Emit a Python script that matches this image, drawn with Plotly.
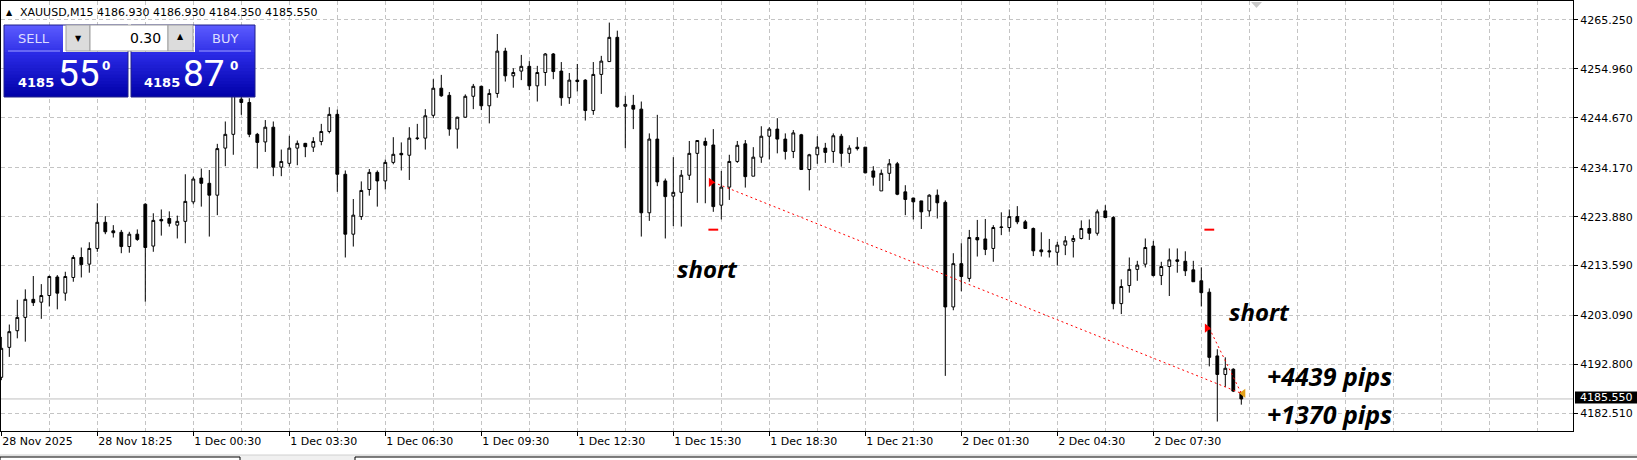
import plotly.graph_objects as go

# ---------------- data ----------------
opens = [4190.1, 4196.4, 4199.9, 4202.7, 4206.5, 4205.9, 4207.3, 4211.2, 4207.8, 4211.1,
         4215.3, 4213.9, 4217.2, 4222.7, 4220.9, 4220.6, 4217.6, 4220.2, 4226.5, 4217.7,
         4223.3, 4223.5, 4222.1, 4222.9, 4227.0, 4232.0, 4230.9, 4228.4, 4238.3, 4241.2,
         4248.6, 4247.9, 4241.2, 4239.6, 4242.7, 4234.3, 4235.1, 4238.3, 4239.3, 4238.5,
         4239.7, 4241.8, 4245.4, 4232.8, 4220.2, 4223.9, 4229.6, 4233.2, 4231.4, 4235.3,
         4237.2, 4236.8, 4240.3, 4240.4, 4245.2, 4250.9, 4249.4, 4242.3, 4244.8, 4249.2,
         4251.3, 4247.2, 4249.8, 4258.7, 4253.5, 4254.5, 4255.5, 4251.4, 4254.2, 4258.1,
         4254.5, 4248.9, 4252.6, 4252.6, 4246.2, 4253.8, 4256.5, 4261.6, 4247.1, 4247.3,
         4246.5, 4224.7, 4240.2, 4231.4, 4228.2, 4229.0, 4232.6, 4237.2, 4239.7, 4238.96,
         4226.3, 4230.1, 4235.5, 4239.2, 4232.4, 4236.4, 4240.8, 4242.3, 4240.2, 4237.6,
         4241.1, 4233.8, 4236.9, 4238.3, 4237.6, 4240.8, 4237.2, 4238.5, 4238.5, 4233.5,
         4229.3, 4233.0, 4235.0, 4229.1, 4227.8, 4227.2, 4225.1, 4228.4, 4226.9, 4204.9,
         4214.0, 4210.9, 4219.5, 4219.2, 4217.2, 4221.6, 4221.6, 4223.9, 4222.8, 4221.4,
         4216.9, 4216.7, 4216.4, 4217.9, 4218.7, 4219.3, 4221.4, 4220.4, 4225.1, 4223.7,
         4205.6, 4209.4, 4212.8, 4213.9, 4217.7, 4211.5, 4213.4, 4214.8, 4214.5, 4212.7,
         4210.4, 4208.0, 4194.6, 4190.7, 4191.8, 4186.93]
highs = [4198.6, 4201.2, 4206.4, 4208.6, 4211.4, 4209.7, 4211.5, 4211.6, 4212.3, 4215.8,
         4217.4, 4218.5, 4226.7, 4224.0, 4222.1, 4221.1, 4220.7, 4221.2, 4226.7, 4224.6,
         4225.4, 4225.0, 4224.1, 4232.8, 4232.3, 4234.0, 4233.7, 4239.2, 4243.9, 4253.0,
         4250.0, 4248.8, 4241.5, 4244.2, 4243.9, 4238.0, 4240.9, 4239.9, 4239.4, 4240.6,
         4243.4, 4246.9, 4246.4, 4233.6, 4227.6, 4231.3, 4233.9, 4233.6, 4235.9, 4240.6,
         4239.5, 4242.7, 4243.4, 4246.5, 4252.8, 4253.7, 4250.1, 4244.9, 4249.6, 4251.8,
         4251.4, 4250.7, 4262.3, 4259.4, 4255.1, 4257.9, 4256.6, 4255.6, 4258.3, 4258.3,
         4256.4, 4254.1, 4256.0, 4252.8, 4256.4, 4257.7, 4264.7, 4263.0, 4249.3, 4249.5,
         4248.1, 4241.4, 4245.3, 4231.9, 4236.4, 4233.7, 4239.8, 4239.9, 4240.5, 4242.3,
         4233.5, 4236.9, 4239.8, 4240.0, 4238.5, 4242.9, 4242.7, 4244.6, 4241.4, 4242.1,
         4241.3, 4237.1, 4240.8, 4239.4, 4241.4, 4241.3, 4238.9, 4240.6, 4238.5, 4234.5,
         4233.8, 4236.0, 4235.4, 4230.5, 4227.8, 4227.2, 4228.6, 4229.6, 4227.3, 4216.2,
         4218.3, 4221.1, 4223.2, 4223.4, 4222.1, 4224.8, 4225.4, 4226.1, 4223.2, 4221.6,
         4220.6, 4219.2, 4218.6, 4219.8, 4220.0, 4223.1, 4223.3, 4225.4, 4226.3, 4224.0,
         4210.7, 4215.3, 4214.6, 4219.3, 4218.8, 4214.4, 4217.2, 4217.2, 4216.6, 4214.6,
         4213.2, 4208.8, 4196.0, 4194.3, 4192.0, 4186.93]
lows = [4189.5, 4194.4, 4198.3, 4197.6, 4205.1, 4202.4, 4205.0, 4204.4, 4206.2, 4210.2,
        4211.1, 4212.1, 4216.5, 4220.2, 4219.5, 4216.2, 4216.3, 4218.8, 4206.0, 4216.5,
        4219.9, 4221.8, 4219.3, 4218.3, 4226.5, 4226.0, 4219.7, 4224.2, 4234.5, 4236.9,
        4245.3, 4240.6, 4234.0, 4237.5, 4232.4, 4232.4, 4234.4, 4234.7, 4236.4, 4237.5,
        4238.9, 4241.4, 4229.1, 4215.3, 4217.6, 4223.2, 4228.3, 4226.0, 4229.6, 4234.9,
        4233.6, 4231.6, 4240.0, 4238.0, 4244.6, 4249.1, 4240.9, 4238.2, 4244.7, 4246.5,
        4246.3, 4243.5, 4248.9, 4252.3, 4251.0, 4252.6, 4250.5, 4248.1, 4251.4, 4252.8,
        4247.2, 4247.6, 4250.2, 4244.1, 4245.3, 4249.7, 4256.5, 4246.8, 4238.3, 4242.3,
        4219.7, 4223.0, 4230.3, 4219.3, 4221.9, 4221.8, 4231.6, 4226.8, 4226.7, 4224.9,
        4223.3, 4227.4, 4235.2, 4230.0, 4232.4, 4235.2, 4235.9, 4237.2, 4235.9, 4236.2,
        4233.8, 4229.4, 4235.0, 4235.2, 4235.2, 4234.4, 4235.2, 4237.8, 4233.0, 4230.4,
        4229.3, 4231.4, 4228.4, 4224.2, 4223.3, 4221.3, 4223.9, 4223.5, 4190.4, 4204.2,
        4208.2, 4210.2, 4215.5, 4215.8, 4214.4, 4220.0, 4220.7, 4222.3, 4221.3, 4215.6,
        4215.5, 4215.3, 4213.6, 4215.8, 4215.3, 4219.1, 4219.0, 4219.9, 4223.7, 4204.4,
        4203.4, 4207.9, 4210.4, 4213.2, 4211.3, 4209.5, 4207.2, 4212.1, 4211.4, 4210.2,
        4205.0, 4192.4, 4180.8, 4188.1, 4187.0, 4184.35]
closes = [4196.2, 4199.7, 4202.7, 4206.5, 4205.8, 4207.3, 4211.3, 4207.8, 4211.3, 4215.3,
          4213.8, 4217.2, 4222.7, 4220.7, 4220.5, 4217.6, 4220.2, 4219.1, 4217.4, 4223.1,
          4223.0, 4222.5, 4222.9, 4227.1, 4231.8, 4230.9, 4228.4, 4238.2, 4241.2, 4250.5,
          4247.9, 4241.2, 4239.5, 4242.7, 4234.3, 4235.5, 4238.3, 4239.3, 4238.6, 4239.7,
          4241.8, 4245.4, 4232.8, 4220.2, 4224.2, 4229.4, 4233.2, 4231.4, 4235.3, 4237.0,
          4236.9, 4240.4, 4240.4, 4245.1, 4250.9, 4249.3, 4242.3, 4244.8, 4249.2, 4251.3,
          4247.2, 4249.8, 4258.7, 4253.5, 4254.2, 4255.5, 4251.4, 4254.2, 4258.1, 4254.4,
          4248.9, 4252.6, 4252.3, 4246.2, 4253.8, 4256.6, 4261.6, 4247.0, 4247.5, 4246.5,
          4224.7, 4240.2, 4231.2, 4228.1, 4229.0, 4232.6, 4237.2, 4239.9, 4238.9, 4226.0,
          4230.1, 4235.5, 4238.9, 4232.3, 4236.4, 4240.8, 4242.3, 4240.2, 4237.6, 4241.5,
          4233.8, 4236.9, 4238.5, 4237.4, 4240.9, 4237.2, 4238.3, 4238.2, 4233.1, 4232.2,
          4233.0, 4235.0, 4228.6, 4227.5, 4227.0, 4224.9, 4228.4, 4226.8, 4204.9, 4214.0,
          4211.3, 4219.5, 4219.0, 4217.0, 4221.6, 4221.7, 4223.9, 4222.8, 4221.4, 4216.7,
          4216.5, 4216.5, 4217.9, 4218.8, 4219.3, 4221.4, 4220.4, 4224.9, 4223.7, 4205.6,
          4209.2, 4212.8, 4213.7, 4217.4, 4211.5, 4213.4, 4214.8, 4214.5, 4212.5, 4210.2,
          4207.9, 4194.3, 4190.7, 4192.0, 4187.2, 4185.55]
bar_index = list(range(len(opens)))

time_tick_idx = [0, 12, 24, 36, 48, 60, 72, 84, 96, 108, 120, 132, 144]
time_tick_text = ["28 Nov 2025", "28 Nov 18:25", "1 Dec 00:30", "1 Dec 03:30", "1 Dec 06:30",
                  "1 Dec 09:30", "1 Dec 12:30", "1 Dec 15:30", "1 Dec 18:30", "1 Dec 21:30",
                  "2 Dec 01:30", "2 Dec 04:30", "2 Dec 07:30"]
price_ticks = [4182.51, 4192.80, 4203.09, 4213.59, 4223.88, 4234.17, 4244.67, 4254.96, 4265.25]
price_tick_text = ["%.3f" % p for p in price_ticks]

trade_open_idx = [89, 151]
trade_open_price = [4231.12, 4200.43]
trade_close_idx = [155, 155]
trade_close_price = [4186.73, 4186.73]
trade_labels = ["+4439 pips", "+1370 pips"]
trade_level_price = [4221.15, 4221.15]
last_price = 4185.55
header = "XAUUSD,M15 4186.930 4186.930 4184.350 4185.550"
lot = "0.30"
bid_big, bid_pts, ask_big, ask_pts = "4185", "55", "4185", "87"

# ---------------- geometry helpers (decoration only) ----------------
W, H = 1637, 460
L, R, T, B = 1, 1573, 1, 431


def px(x):
    return (x - L) / (R - L)


def py(y):
    return (B - y) / (B - T)


FONT = "DejaVu Sans"

fig = go.Figure()

fig.add_trace(go.Candlestick(
    x=bar_index, open=opens, high=highs, low=lows, close=closes,
    increasing=dict(fillcolor="white", line=dict(color="black", width=1)),
    decreasing=dict(fillcolor="black", line=dict(color="black", width=1)),
    whiskerwidth=0, hoverinfo="skip", showlegend=False))

# trade lines
for i in range(len(trade_open_idx)):
    fig.add_trace(go.Scatter(
        x=[trade_open_idx[i], trade_close_idx[i]],
        y=[trade_open_price[i], trade_close_price[i]],
        mode="lines", line=dict(color="red", width=1, dash="2px,3px"),
        hoverinfo="skip", showlegend=False))
fig.add_trace(go.Scatter(
    x=[v - 0.3 for v in trade_open_idx], y=trade_open_price, mode="markers",
    marker=dict(symbol="triangle-right", size=8, color="red"),
    hoverinfo="skip", showlegend=False))
fig.add_trace(go.Scatter(
    x=trade_open_idx, y=trade_level_price, mode="markers",
    marker=dict(symbol="line-ew", size=7, line=dict(color="red", width=2)),
    hoverinfo="skip", showlegend=False))
fig.add_trace(go.Scatter(
    x=[trade_close_idx[0] + 0.25], y=[trade_close_price[0]], mode="markers",
    marker=dict(symbol="triangle-left", size=8, color="#e3a21a"),
    hoverinfo="skip", showlegend=False))

shapes = []
annotations = []

# current price line
shapes.append(dict(type="line", xref="paper", yref="y", x0=0, x1=1, y0=last_price, y1=last_price,
                   line=dict(color="#c0c0c0", width=1), layer="below"))
# price label box
shapes.append(dict(type="rect", xref="paper", yref="paper", x0=px(1575), x1=px(1637),
                   y0=py(403.5), y1=py(391.5), fillcolor="black", line=dict(width=0), layer="above"))
annotations.append(dict(x=px(1578), y=py(397.5), xref="paper", yref="paper", text="%.3f" % last_price,
                        showarrow=False, xanchor="left", yanchor="middle",
                        font=dict(family=FONT, size=11, color="white")))


def mix(c1, c2, t):
    return "rgb(%d,%d,%d)" % tuple(round(a + (b - a) * t) for a, b in zip(c1, c2))


def grad_rect(x0, y0, x1, y1, ctop, cbot, n=14):
    h = (y1 - y0) / n
    for k in range(n):
        yb = min(y1, y0 + (k + 1) * h + 1.0)
        shapes.append(dict(type="rect", xref="paper", yref="paper",
                           x0=px(x0), x1=px(x1), y0=py(yb), y1=py(y0 + k * h),
                           fillcolor=mix(ctop, cbot, (k + 0.5) / n), line=dict(width=0), layer="above"))


def rect(x0, y0, x1, y1, fill, line="#a0a0a0", lw=1):
    shapes.append(dict(type="rect", xref="paper", yref="paper", x0=px(x0), x1=px(x1),
                       y0=py(y1), y1=py(y0), fillcolor=fill,
                       line=dict(color=line, width=lw), layer="above"))


def text(x, y, s, size, color="black", family=FONT, anchor="center", bold=False, italic=False):
    annotations.append(dict(x=px(x), y=py(y), xref="paper", yref="paper", text=s, showarrow=False,
                            xanchor=anchor, yanchor="middle",
                            font=dict(family=family, size=size, color=color,
                                      weight="bold" if bold else "normal",
                                      style="italic" if italic else "normal")))


# trading panel
grad_rect(4, 25, 63, 52, (92, 92, 255), (50, 50, 232))
grad_rect(195, 25, 255, 52, (92, 92, 255), (50, 50, 232))
grad_rect(4, 52, 128, 97, (44, 44, 232), (0, 0, 168))
grad_rect(131, 52, 255, 97, (44, 44, 232), (0, 0, 168))
for (a, b) in [(8, 60), (199, 251)]:
    shapes.append(dict(type="line", xref="paper", yref="paper", x0=px(a), x1=px(b), y0=py(51), y1=py(51),
                       line=dict(color="#9a9aff", width=1), layer="above"))
rect(4, 25, 128, 97, "rgba(0,0,0,0)", "#20208a")
rect(131, 25, 255, 97, "rgba(0,0,0,0)", "#20208a")
rect(66, 25, 90, 51, "#dcdcdc")
rect(90, 25, 168, 51, "white")
rect(168, 25, 193, 51, "#dcdcdc")
text(78, 38, "▼", 8)
text(180.5, 37, "▲", 8)
text(163, 37.5, lot, 14, anchor="right")
text(33.5, 39, "SELL", 13, color="#dcdcff")
text(225, 39, "BUY", 13, color="#dcdcff")
text(35.5, 82, bid_big, 13, color="white", bold=True)
text(161.5, 82, ask_big, 13, color="white", bold=True)
text(78.5, 73, bid_pts, 37, color="white", family="Roboto")
text(204, 73, ask_pts, 37, color="white", family="Roboto")
text(106, 66, "0", 12, color="white", bold=True)
text(234, 66, "0", 12, color="white", bold=True)

# header
text(9.5, 12.5, "▲", 8)
text(18, 12.5, header, 11, anchor="left")

# chart shift marker
shapes.append(dict(type="path", xref="paper", yref="paper",
                   path="M %f %f L %f %f L %f %f Z" % (px(1251), py(2), px(1262), py(2), px(1256.5), py(8)),
                   fillcolor="#c8c8c8", line=dict(width=0), layer="above"))

# trade notes
text(707, 268, "short", 24, family="Noto Sans", bold=True, italic=True)
text(1259, 311, "short", 24, family="Noto Sans", bold=True, italic=True)
text(1265, 376, trade_labels[0], 25, family="Noto Sans", bold=True, italic=True, anchor="left")
text(1265, 414, trade_labels[1], 25, family="Noto Sans", bold=True, italic=True, anchor="left")

# bottom tab bar
rect(-2, 455, 1640, 462, "#f0f0f0", "#d0d0d0")
rect(0, 457, 240, 463, "white", "black")
rect(355, 457, 1640, 463, "white", "black")

fig.update_layout(
    width=W, height=H,
    margin=dict(l=L, r=W - R, t=T, b=H - B),
    paper_bgcolor="white", plot_bgcolor="white",
    font=dict(family=FONT, size=11, color="black"),
    boxgap=0.5,
    showlegend=False,
    shapes=shapes, annotations=annotations,
    xaxis=dict(range=[(L - 1.3) / 8, (R - 1.3) / 8], rangeslider=dict(visible=False),
               tickmode="array", tickvals=time_tick_idx, ticktext=time_tick_text,
               ticks="outside", ticklen=4, tickcolor="black", ticklabelposition="outside right",
               tickfont=dict(family=FONT, size=11, color="black"),
               showgrid=True, gridcolor="#c4c4c4", gridwidth=1, griddash="4px,3px",
               minor=dict(tickmode="linear", tick0=0, dtick=6, showgrid=True, gridcolor="#c4c4c4",
                          gridwidth=1, griddash="4px,3px", ticks=""),
               showline=True, linecolor="black", linewidth=1, mirror=True, zeroline=False,
               fixedrange=True),
    yaxis=dict(range=[4269.45 - 0.2103 * B, 4269.45 - 0.2103 * T], side="right",
               tickmode="array", tickvals=price_ticks, ticktext=price_tick_text,
               ticks="outside", ticklen=4, tickcolor="black",
               tickfont=dict(family=FONT, size=11, color="black"),
               showgrid=True, gridcolor="#c4c4c4", gridwidth=1, griddash="4px,3px",
               showline=True, linecolor="black", linewidth=1, mirror=True, zeroline=False,
               fixedrange=True),
)

fig.write_html("out.html", config={"displayModeBar": False},
               post_script="document.body.style.margin='0px';")
